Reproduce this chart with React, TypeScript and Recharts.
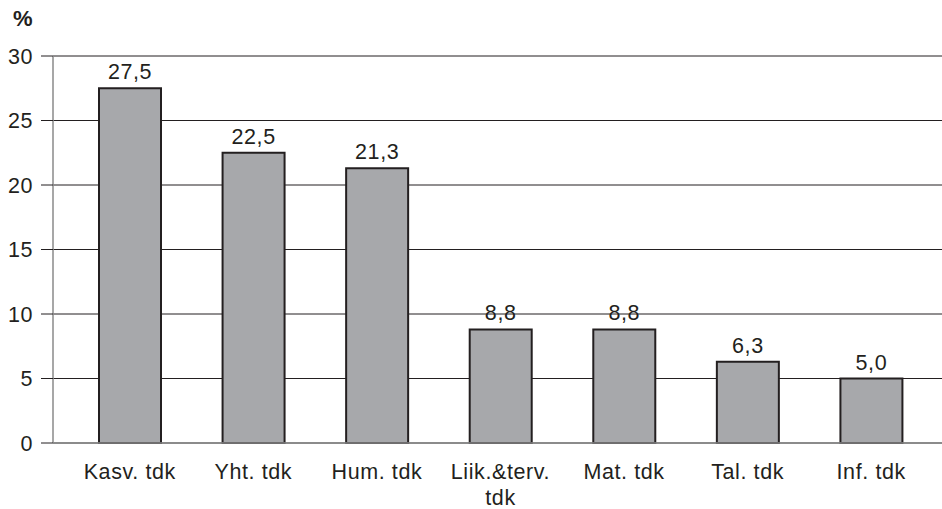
import React from "react";
import { BarChart, Bar, XAxis, YAxis, CartesianGrid, LabelList } from "recharts";

const categories = ["Kasv. tdk", "Yht. tdk", "Hum. tdk", "Liik.&terv. tdk", "Mat. tdk", "Tal. tdk", "Inf. tdk"];
const values = [27.5, 22.5, 21.3, 8.8, 8.8, 6.3, 5.0];
const yTicks = [0, 5, 10, 15, 20, 25, 30];

const data = categories.map((c, i) => ({ name: c, value: values[i] }));

const FONT = "'Liberation Sans', Arial, sans-serif";

const XTick = (props: any) => {
  const { x, y, payload } = props;
  const label: string = payload.value;
  const lines = label === "Liik.&terv. tdk" ? ["Liik.&terv.", "tdk"] : [label];
  return (
    <g transform={`translate(${x},${y})`}>
      {lines.map((l, i) => (
        <text key={i} x={0} y={i * 26} dy={28} textAnchor="middle" fill="#231f20" fontSize={21.5} letterSpacing={0.6} fontFamily={FONT}>
          {l}
        </text>
      ))}
    </g>
  );
};

const fmt = (v: any) => Number(v).toFixed(1).replace(".", ",");

export default function App() {
  return (
    <div style={{ position: "absolute", left: 0, top: 0, width: 942, height: 509, background: "#fff", overflow: "hidden" }}>
      <div style={{ position: "absolute", left: 13, top: 6, fontFamily: FONT, fontWeight: "bold", fontSize: 22, color: "#231f20" }}>%</div>
      <BarChart
        width={948}
        height={509}
        data={data}
        margin={{ top: 56, right: 0, bottom: 0, left: 0 }}
        barSize={62}
      >
        <CartesianGrid horizontal={true} vertical={false} stroke="#231f20" strokeWidth={1} />
        <XAxis
          dataKey="name"
          height={66}
          interval={0}
          tick={<XTick />}
          tickLine={false}
          axisLine={{ stroke: "#8a8a8a", strokeWidth: 1.5 }}
          padding={{ left: 15, right: 15 }}
        />
        <YAxis
          width={53}
          domain={[0, 30]}
          ticks={yTicks}
          tickSize={12}
          tickMargin={8}
          tickLine={{ stroke: "#231f20" }}
          axisLine={{ stroke: "#8a8a8a", strokeWidth: 1.5 }}
          tick={{ fill: "#231f20", fontSize: 21.5, fontFamily: FONT, letterSpacing: 0.6 }}
        />
        <Bar dataKey="value" fill="#a7a8ab" stroke="#231f20" strokeWidth={2} isAnimationActive={false}>
          <LabelList
            dataKey="value"
            position="top"
            offset={9}
            formatter={fmt}
            style={{ fill: "#231f20", fontSize: 21.5, fontFamily: FONT, letterSpacing: 0.6 }}
          />
        </Bar>
      </BarChart>
    </div>
  );
}
